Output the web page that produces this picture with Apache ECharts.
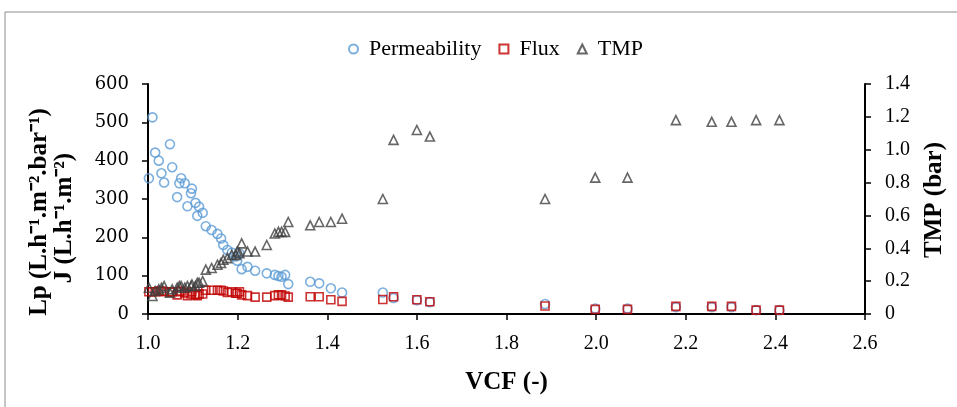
<!DOCTYPE html>
<html>
<head>
<meta charset="utf-8">
<script src="https://cdn.jsdelivr.net/npm/echarts@6/dist/echarts.min.js"></script>
<style>
  html, body { margin: 0; padding: 0; background: #fff; }
  #chart { width: 957px; height: 407px; }
</style>
</head>
<body>
<div id="chart"></div>
<script>
// VCF values shared by the three series
var vcf = [1.002, 1.010, 1.016, 1.024, 1.030, 1.036, 1.049, 1.054, 1.065, 1.070,
           1.074, 1.082, 1.088, 1.096, 1.098, 1.106, 1.110, 1.114, 1.122, 1.129,
           1.142, 1.155, 1.163, 1.168, 1.177, 1.187, 1.196, 1.199, 1.204, 1.209,
           1.222, 1.239, 1.265, 1.283, 1.291, 1.298, 1.306, 1.313, 1.362, 1.382,
           1.408, 1.433, 1.524, 1.548, 1.600, 1.629, 1.886, 1.998, 2.070, 2.178,
           2.258, 2.302, 2.357, 2.409];
// permeability Lp (L.h-1.m-2.bar-1)
var permeability = [354, 513, 421, 400, 367, 343, 443, 383, 305, 341,
                    354, 341, 281, 315, 327, 290, 256, 280, 264, 229,
                    219, 209, 197, 180, 167, 160, 150, 139, 158, 117,
                    123, 113, 106, 102, 99, 97, 102, 78, 84, 80,
                    67, 56, 56, 42, 36, 31, 26, 14, 14, 18,
                    18, 18, 10, 10];
// flux J (L.h-1.m-2)
var flux = [58, 58, 58, 60, 60, 58, 57, 58, 50, 58,
            60, 55, 48, 52, 58, 50, 48, 52, 52, 62,
            62, 62, 62, 60, 56, 58, 54, 54, 58, 50,
            48, 44, 44, 48, 50, 50, 47, 44, 45, 45,
            37, 33, 38, 45, 37, 32, 21, 12, 12, 20,
            20, 20, 10, 10];
// TMP (bar)
var tmp = [0.16, 0.11, 0.14, 0.15, 0.16, 0.17, 0.13, 0.15, 0.16, 0.17,
           0.17, 0.16, 0.17, 0.17, 0.18, 0.17, 0.19, 0.19, 0.20, 0.27,
           0.28, 0.30, 0.31, 0.33, 0.34, 0.36, 0.36, 0.38, 0.37, 0.43,
           0.38, 0.38, 0.42, 0.49, 0.50, 0.50, 0.50, 0.56, 0.54, 0.56,
           0.56, 0.58, 0.70, 1.06, 1.12, 1.08, 0.70, 0.83, 0.83, 1.18,
           1.17, 1.17, 1.18, 1.18];

var seriesNames = ['Permeability', 'Flux', 'TMP'];

function pairs(ys) {
  return vcf.map(function (x, i) { return [x, ys[i]]; });
}

var serif = 'Liberation Serif';
var chart = echarts.init(document.getElementById('chart'));
chart.setOption({
  animation: false,
  backgroundColor: '#fff',
  grid: { left: 148, right: 92, top: 84, bottom: 93 },
  legend: {
    data: seriesNames,
    top: 33,
    left: 343,
    itemWidth: 9,
    itemHeight: 9,
    itemGap: 17,
    textStyle: { fontFamily: serif, fontSize: 22, color: '#000', padding: [0, 0, 0, 6] }
  },
  xAxis: {
    type: 'value',
    min: 1.0,
    max: 2.6,
    interval: 0.2,
    name: 'VCF (-)',
    nameLocation: 'middle',
    nameGap: 56,
    nameTextStyle: { fontFamily: serif, fontSize: 25, fontWeight: 'bold', color: '#000' },
    axisLine: { lineStyle: { color: '#000', width: 2 } },
    axisTick: { length: 6, lineStyle: { color: '#000', width: 1.5 } },
    axisLabel: {
      margin: 20,
      fontFamily: serif, fontSize: 20, color: '#000',
      formatter: function (v) { return v.toFixed(1); }
    },
    splitLine: { show: false }
  },
  yAxis: [{
    type: 'value',
    min: 0,
    max: 600,
    interval: 100,
    axisLine: { show: true, lineStyle: { color: '#000', width: 2 } },
    axisTick: { show: true, length: 6, lineStyle: { color: '#000', width: 1.5 } },
    axisLabel: { margin: 19, fontFamily: 'DejaVu Serif', fontSize: 18, color: '#000' },
    splitLine: { show: false }
  }, {
    type: 'value',
    min: 0,
    max: 1.4,
    interval: 0.2,
    axisLine: { show: true, lineStyle: { color: '#000', width: 2 } },
    axisTick: { show: true, length: 6, lineStyle: { color: '#000', width: 1.5 } },
    axisLabel: {
      margin: 20,
      fontFamily: serif, fontSize: 20, color: '#000',
      formatter: function (v) { return v === 0 ? '0' : v.toFixed(1); }
    },
    splitLine: { show: false }
  }],
  graphic: [
    { type: 'rect', z: -10, shape: { x: 5, y: 12, width: 1000, height: 500 },
      style: { fill: 'none', stroke: '#8c8c8c', lineWidth: 1 } },
    { type: 'text', x: 40, y: 212, rotation: Math.PI / 2,
      style: { text: 'Lp (L.h\u207B\u00B9.m\u207B\u00B2.bar\u207B\u00B9)', fill: '#000',
               font: 'bold 25px "Liberation Serif"', align: 'center', verticalAlign: 'middle' } },
    { type: 'text', x: 65, y: 218, rotation: Math.PI / 2,
      style: { text: 'J (L.h\u207B\u00B9.m\u207B\u00B2)', fill: '#000',
               font: 'bold 25px "Liberation Serif"', align: 'center', verticalAlign: 'middle' } },
    { type: 'text', x: 935, y: 200, rotation: Math.PI / 2,
      style: { text: 'TMP (bar)', fill: '#000',
               font: 'bold 25px "Liberation Serif"', align: 'center', verticalAlign: 'middle' } }
  ],
  series: [{
    name: seriesNames[0],
    type: 'scatter',
    symbol: 'circle',
    symbolSize: 9,
    itemStyle: { color: 'rgba(0,0,0,0)', borderColor: '#5B9BD5', borderWidth: 1.6 },
    data: pairs(permeability)
  }, {
    name: seriesNames[1],
    type: 'scatter',
    symbol: 'rect',
    symbolSize: 8,
    itemStyle: { color: 'rgba(0,0,0,0)', borderColor: '#C00000', borderWidth: 1.6 },
    data: pairs(flux)
  }, {
    name: seriesNames[2],
    type: 'scatter',
    yAxisIndex: 1,
    symbol: 'triangle',
    symbolSize: 9,
    itemStyle: { color: 'rgba(0,0,0,0)', borderColor: '#404040', borderWidth: 1.6 },
    data: pairs(tmp)
  }]
});
</script>
</body>
</html>
